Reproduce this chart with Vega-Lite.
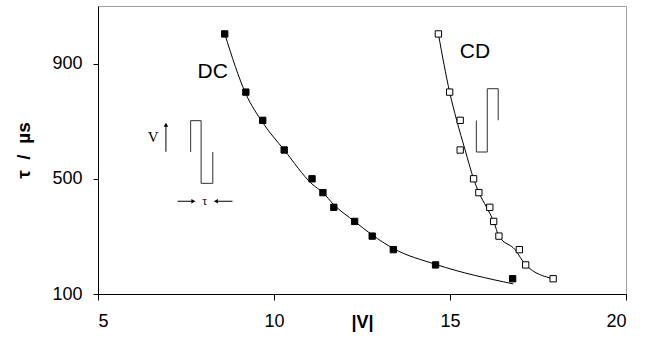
{
  "$schema": "https://vega.github.io/schema/vega-lite/v6.json",
  "autosize": "none",
  "width": 528,
  "height": 288,
  "padding": {"left": 98, "top": 6, "right": 25, "bottom": 48},
  "background": "white",
  "config": {
    "view": {"stroke": "#a0a0a0", "strokeWidth": 1},
    "font": "Liberation Sans"
  },
  "datasets": {
    "pts": [
      {"series": "DC", "V": 8.6, "tau": 1003},
      {"series": "DC", "V": 9.2, "tau": 801},
      {"series": "DC", "V": 9.68, "tau": 703},
      {"series": "DC", "V": 10.29, "tau": 600},
      {"series": "DC", "V": 11.08, "tau": 500},
      {"series": "DC", "V": 11.39, "tau": 452},
      {"series": "DC", "V": 11.7, "tau": 401},
      {"series": "DC", "V": 12.29, "tau": 352},
      {"series": "DC", "V": 12.79, "tau": 301},
      {"series": "DC", "V": 13.39, "tau": 254},
      {"series": "DC", "V": 14.59, "tau": 201},
      {"series": "DC", "V": 16.78, "tau": 153},
      {"series": "CD", "V": 14.67, "tau": 1003},
      {"series": "CD", "V": 14.99, "tau": 801},
      {"series": "CD", "V": 15.29, "tau": 703},
      {"series": "CD", "V": 15.29, "tau": 600},
      {"series": "CD", "V": 15.67, "tau": 500},
      {"series": "CD", "V": 15.82, "tau": 452},
      {"series": "CD", "V": 16.13, "tau": 401},
      {"series": "CD", "V": 16.24, "tau": 352},
      {"series": "CD", "V": 16.39, "tau": 301},
      {"series": "CD", "V": 16.97, "tau": 254},
      {"series": "CD", "V": 17.15, "tau": 201},
      {"series": "CD", "V": 17.93, "tau": 153}
    ],
    "fit": [
      {"series": "DC", "o": 1, "V": 8.6, "tau": 1003},
      {"series": "DC", "o": 2, "V": 9.2, "tau": 795},
      {"series": "DC", "o": 3, "V": 9.68, "tau": 695},
      {"series": "DC", "o": 4, "V": 10.29, "tau": 600},
      {"series": "DC", "o": 5, "V": 11.08, "tau": 482},
      {"series": "DC", "o": 6, "V": 11.39, "tau": 452},
      {"series": "DC", "o": 7, "V": 11.7, "tau": 410},
      {"series": "DC", "o": 8, "V": 12.29, "tau": 352},
      {"series": "DC", "o": 9, "V": 12.79, "tau": 305},
      {"series": "DC", "o": 10, "V": 13.39, "tau": 258},
      {"series": "DC", "o": 11, "V": 14.59, "tau": 203},
      {"series": "DC", "o": 12, "V": 16.8, "tau": 135},
      {"series": "CD", "o": 1, "V": 14.67, "tau": 1003},
      {"series": "CD", "o": 2, "V": 14.99, "tau": 801},
      {"series": "CD", "o": 3, "V": 15.19, "tau": 703},
      {"series": "CD", "o": 4, "V": 15.43, "tau": 600},
      {"series": "CD", "o": 5, "V": 15.67, "tau": 500},
      {"series": "CD", "o": 6, "V": 15.82, "tau": 452},
      {"series": "CD", "o": 7, "V": 16.04, "tau": 401},
      {"series": "CD", "o": 8, "V": 16.24, "tau": 352},
      {"series": "CD", "o": 9, "V": 16.39, "tau": 301},
      {"series": "CD", "o": 10, "V": 16.85, "tau": 254},
      {"series": "CD", "o": 11, "V": 17.15, "tau": 201},
      {"series": "CD", "o": 12, "V": 17.93, "tau": 153}
    ],
    "pulse": [
      {"x": 7.63, "y": 593, "x2": 7.63, "y2": 702},
      {"x": 7.63, "y": 702, "x2": 7.93, "y2": 702},
      {"x": 7.93, "y": 702, "x2": 7.93, "y2": 484},
      {"x": 7.93, "y": 484, "x2": 8.26, "y2": 484},
      {"x": 8.26, "y": 484, "x2": 8.26, "y2": 593},
      {"x": 15.75, "y": 702, "x2": 15.75, "y2": 593},
      {"x": 15.75, "y": 593, "x2": 16.06, "y2": 593},
      {"x": 16.06, "y": 593, "x2": 16.06, "y2": 813},
      {"x": 16.06, "y": 813, "x2": 16.37, "y2": 813},
      {"x": 16.37, "y": 813, "x2": 16.37, "y2": 703}
    ],
    "arrows": [
      {"x": 6.93, "y": 594, "x2": 6.93, "y2": 688},
      {"x": 7.26, "y": 422, "x2": 7.7, "y2": 422},
      {"x": 8.82, "y": 422, "x2": 8.36, "y2": 422}
    ],
    "heads": [
      {"x": 6.93, "y": 688, "shape": "triangle-up"},
      {"x": 7.71, "y": 422, "shape": "triangle-right"},
      {"x": 8.35, "y": 422, "shape": "triangle-left"}
    ],
    "big": [
      {"x": 8.26, "y": 871, "t": "DC"},
      {"x": 15.71, "y": 941, "t": "CD"}
    ],
    "small": [
      {"x": 6.57, "y": 646, "t": "V", "s": 15},
      {"x": 8.03, "y": 422, "t": "τ", "s": 12}
    ]
  },
  "layer": [
    {
      "data": {"name": "fit"},
      "mark": {"type": "line", "color": "black", "strokeWidth": 1, "interpolate": "monotone"},
      "encoding": {
        "x": {"field": "V", "type": "quantitative", "scale": {"domain": [5, 20], "nice": false, "zero": false},
          "axis": {"values": [5, 10, 15, 20], "title": "|V|", "grid": false, "domainColor": "black", "tickColor": "black",
            "tickSize": 6, "labelFontSize": 18, "labelColor": "black", "labelPadding": 12, "labelFont": "Liberation Sans",
            "titleFontSize": 18, "titleFontWeight": "bold", "titleColor": "black", "titleFont": "Liberation Sans",
            "titleBaseline": "middle", "titleY": 28}},
        "y": {"field": "tau", "type": "quantitative", "scale": {"domain": [100, 1100], "nice": false, "zero": false},
          "axis": {"values": [100, 500, 900], "title": "τ\u00a0\u00a0/\u00a0\u00a0µs", "grid": false, "domainColor": "black", "tickColor": "black",
            "tickSize": 5, "labelFontSize": 18, "labelColor": "black", "labelPadding": 11, "labelFont": "Liberation Sans",
            "titleFontSize": 19, "titleFontWeight": "bold", "titleColor": "black", "titleFont": "Liberation Sans",
            "titleBaseline": "middle", "titleX": -75, "titleY": 144}},
        "detail": {"field": "series"},
        "order": {"field": "o"}
      }
    },
    {
      "data": {"name": "pts"},
      "mark": {"type": "point", "shape": "square", "size": 40, "strokeWidth": 1, "opacity": 1},
      "encoding": {
        "x": {"field": "V", "type": "quantitative"},
        "y": {"field": "tau", "type": "quantitative"},
        "fill": {"field": "series", "type": "nominal", "scale": {"domain": ["DC", "CD"], "range": ["black", "white"]}, "legend": null},
        "stroke": {"value": "black"}
      }
    },
    {
      "data": {"name": "pulse"},
      "mark": {"type": "rule", "color": "#505050", "strokeWidth": 1.2},
      "encoding": {
        "x": {"field": "x", "type": "quantitative"},
        "y": {"field": "y", "type": "quantitative"},
        "x2": {"field": "x2"},
        "y2": {"field": "y2"}
      }
    },
    {
      "data": {"name": "arrows"},
      "mark": {"type": "rule", "color": "black", "strokeWidth": 1},
      "encoding": {
        "x": {"field": "x", "type": "quantitative"},
        "y": {"field": "y", "type": "quantitative"},
        "x2": {"field": "x2"},
        "y2": {"field": "y2"}
      }
    },
    {
      "data": {"name": "heads"},
      "mark": {"type": "point", "filled": true, "color": "black", "size": 22, "opacity": 1},
      "encoding": {
        "x": {"field": "x", "type": "quantitative"},
        "y": {"field": "y", "type": "quantitative"},
        "shape": {"field": "shape", "type": "nominal", "scale": null}
      }
    },
    {
      "data": {"name": "big"},
      "mark": {"type": "text", "font": "Liberation Sans", "fontSize": 21, "color": "black", "baseline": "middle", "align": "center"},
      "encoding": {
        "x": {"field": "x", "type": "quantitative"},
        "y": {"field": "y", "type": "quantitative"},
        "text": {"field": "t"}
      }
    },
    {
      "data": {"name": "small"},
      "mark": {"type": "text", "font": "Liberation Serif", "color": "black", "baseline": "middle", "align": "center"},
      "encoding": {
        "x": {"field": "x", "type": "quantitative"},
        "y": {"field": "y", "type": "quantitative"},
        "text": {"field": "t"},
        "size": {"field": "s", "type": "quantitative", "scale": null}
      }
    }
  ]
}
